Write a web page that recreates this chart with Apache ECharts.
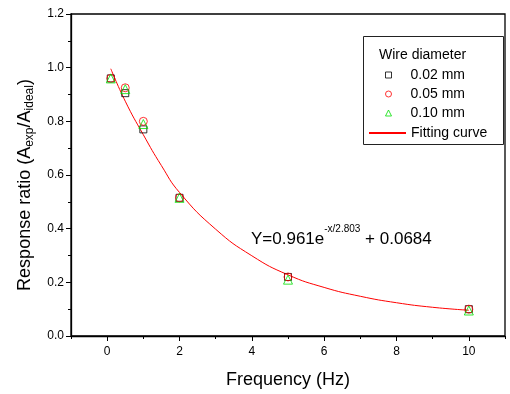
<!DOCTYPE html>
<html>
<head>
<meta charset="utf-8">
<script src="https://cdn.jsdelivr.net/npm/echarts@6/dist/echarts.min.js"></script>
<style>
  html, body { margin: 0; padding: 0; background: #fff; }
  #chart { width: 510px; height: 394px; }
</style>
</head>
<body>
<div id="chart"></div>
<script>
// measured points (frequency in Hz)
var freq = [0.1, 0.5, 1, 2, 5, 10];
var d002 = [0.96, 0.905, 0.77, 0.515, 0.22, 0.10];
var d005 = [0.96, 0.925, 0.80, 0.515, 0.22, 0.10];
var d010 = [0.96, 0.92, 0.79, 0.515, 0.21, 0.095];

// fitting curve
var fitX = [0.1, 0.5, 1, 1.5, 2, 3, 4, 5, 6, 7, 8, 9, 10];
var fitY = [0.996, 0.875, 0.75, 0.635, 0.535, 0.398, 0.299, 0.228, 0.181, 0.148, 0.124, 0.107, 0.096];

var xMajor = [0, 2, 4, 6, 8, 10];
var xMinor = [-1, 1, 3, 5, 7, 9, 11];
var seriesNames = ["0.02 mm", "0.05 mm", "0.10 mm", "Fitting curve"];

var font = "Liberation Sans, Arial, sans-serif";

function pairs(xs, ys) {
  return xs.map(function (x, i) { return [x, ys[i]]; });
}

var myChart = echarts.init(document.getElementById("chart"));
myChart.setOption({
  animation: false,
  textStyle: { fontFamily: font },
  grid: {
    left: 71, right: 5, top: 14, bottom: 57,
    show: true, borderColor: "#000", borderWidth: 1.3
  },
  title: {
    text: "Wire diameter",
    left: 374, top: 43,
    textStyle: { fontSize: 14, fontWeight: "normal", color: "#000", fontFamily: font }
  },
  legend: [
    {
      data: seriesNames.slice(0, 3),
      orient: "vertical",
      left: 380, top: 63,
      itemWidth: 6, itemHeight: 6,
      itemGap: 5,
      itemStyle: { borderWidth: 1 },
      textStyle: { fontSize: 14, color: "#000", fontFamily: font, padding: [0, 0, 0, 14] }
    },
    {
      data: [seriesNames[3]],
      left: 363, top: 121,
      itemWidth: 37, itemHeight: 10,
      itemStyle: { opacity: 0 },
      textStyle: { fontSize: 14, color: "#000", fontFamily: font }
    }
  ],
  xAxis: [
    {
      type: "value", min: -1, max: 11,
      name: "Frequency (Hz)",
      nameLocation: "middle", nameGap: 35,
      nameTextStyle: { fontSize: 18, color: "#000", fontFamily: font },
      axisLine: { onZero: false, lineStyle: { color: "#000", width: 1.3 } },
      axisTick: { customValues: xMajor, length: 5, lineStyle: { color: "#000" } },
      axisLabel: { customValues: xMajor, fontSize: 12, color: "#000", margin: 10 },
      splitLine: { show: false }
    },
    {
      type: "value", min: -1, max: 11, position: "bottom",
      axisLine: { show: false, onZero: false },
      axisTick: { customValues: xMinor, length: 3, lineStyle: { color: "#000" } },
      axisLabel: { show: false },
      splitLine: { show: false }
    }
  ],
  yAxis: {
    type: "value", min: 0, max: 1.2, interval: 0.2,
    name: "{a|Response ratio (A}{s|exp}{a|/A}{s|ideal}{a|)}",
    nameLocation: "middle", nameGap: 35,
    nameTextStyle: {
      color: "#000",
      padding: [0, 20, 0, 0],
      rich: {
        a: { fontSize: 18, color: "#000", fontFamily: font, lineHeight: 22 },
        s: { fontSize: 12, color: "#000", fontFamily: font, verticalAlign: "bottom", lineHeight: 16 }
      }
    },
    axisLine: { show: true, onZero: false, lineStyle: { color: "#000", width: 1.3 } },
    axisTick: { show: true, length: 5, lineStyle: { color: "#000" } },
    minorTick: { show: true, splitNumber: 2, length: 3, lineStyle: { color: "#000" } },
    axisLabel: {
      fontSize: 12, color: "#000", margin: 7,
      formatter: function (v) { return v.toFixed(1); }
    },
    splitLine: { show: false }
  },
  graphic: [
    {
      type: "rect",
      shape: { x: 363.5, y: 36.5, width: 140, height: 108 },
      style: { fill: "none", stroke: "#222", lineWidth: 1 },
      z: 1
    },
    {
      type: "text",
      left: 251, top: 224,
      style: {
        text: "{a|Y=0.961e}{p|-x/2.803}{a| + 0.0684}",
        rich: {
          a: { fontSize: 17, fill: "#000", fontFamily: font, lineHeight: 24, verticalAlign: "bottom" },
          p: { fontSize: 10, fill: "#000", fontFamily: font, lineHeight: 24, verticalAlign: "top" }
        }
      }
    }
  ],
  series: [
    {
      name: seriesNames[0], type: "scatter",
      symbol: "rect", symbolSize: 7,
      itemStyle: { color: "transparent", borderColor: "#000", borderWidth: 1 },
      data: pairs(freq, d002), z: 3
    },
    {
      name: seriesNames[1], type: "scatter",
      symbol: "circle", symbolSize: 8,
      itemStyle: { color: "transparent", borderColor: "#ff0000", borderWidth: 1 },
      data: pairs(freq, d005), z: 3
    },
    {
      name: seriesNames[2], type: "scatter",
      symbol: "triangle", symbolSize: 9,
      itemStyle: { color: "transparent", borderColor: "#00e000", borderWidth: 1 },
      data: pairs(freq, d010), z: 4
    },
    {
      name: seriesNames[3], type: "line",
      symbol: "none", smooth: true,
      lineStyle: { color: "#ff0000", width: 1 },
      itemStyle: { color: "#ff0000" },
      data: pairs(fitX, fitY), z: 2
    }
  ]
});
</script>
</body>
</html>
